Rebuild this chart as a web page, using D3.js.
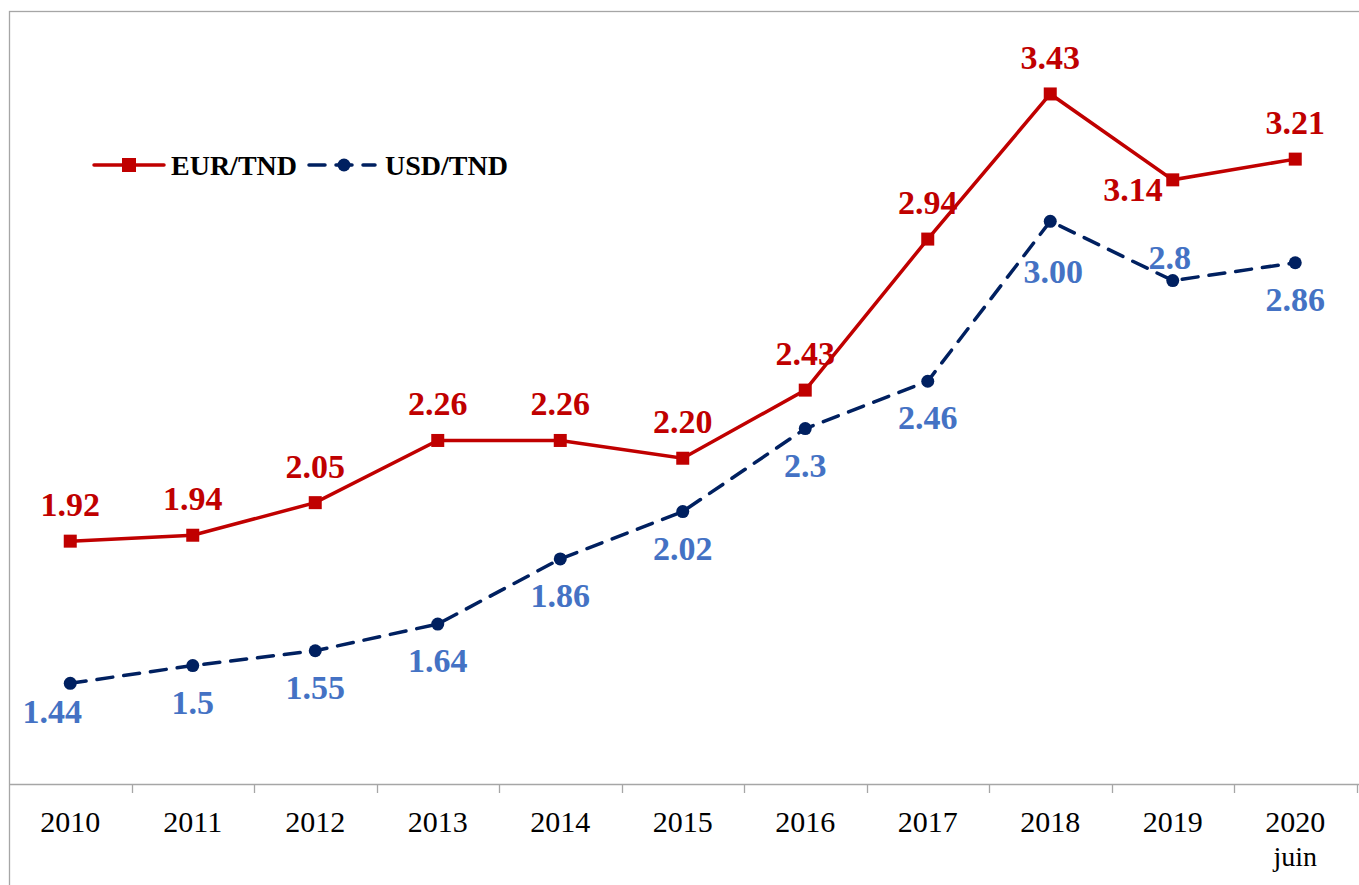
<!DOCTYPE html>
<html>
<head>
<meta charset="utf-8">
<script src="https://cdn.jsdelivr.net/npm/d3@7"></script>
<style>
  body { margin: 0; background: #fff; }
  svg text { font-family: "Liberation Serif", "DejaVu Serif", serif; }
</style>
</head>
<body>
<div id="main"></div>
<script>
// data
const years = ["2010", "2011", "2012", "2013", "2014", "2015", "2016", "2017", "2018", "2019", "2020"];
const yearSub = ["", "", "", "", "", "", "", "", "", "", "juin"];
const eurTnd = [1.92, 1.94, 2.05, 2.26, 2.26, 2.20, 2.43, 2.94, 3.43, 3.14, 3.21];
const usdTnd = [1.44, 1.5, 1.55, 1.64, 1.86, 2.02, 2.3, 2.46, 3.00, 2.8, 2.86];
const eurLabels = ["1.92", "1.94", "2.05", "2.26", "2.26", "2.20", "2.43", "2.94", "3.43", "3.14", "3.21"];
const usdLabels = ["1.44", "1.5", "1.55", "1.64", "1.86", "2.02", "2.3", "2.46", "3.00", "2.8", "2.86"];

const W = 1359, H = 885;
const red = "#C00000", navy = "#002060", lblue = "#4472C4", grey = "#a6a6a6";

const svg = d3.select("#main")
  .append("svg")
  .attr("width", W)
  .attr("height", H);

// chart frame (cut off at right and bottom)
svg.append("rect")
  .attr("x", 9.5).attr("y", 11.5)
  .attr("width", 1400).attr("height", 1000)
  .attr("fill", "none")
  .attr("stroke", grey)
  .attr("stroke-width", 1.3);

const x = d3.scaleBand()
  .domain(years)
  .range([9, 1356.5]);

const y = d3.scaleLinear()
  .domain([1.1, 3.7])
  .range([784, 14]);

const cx = (d) => x(d) + x.bandwidth() / 2;

// x axis
svg.append("line")
  .attr("x1", 9).attr("x2", W)
  .attr("y1", 784.5).attr("y2", 784.5)
  .attr("stroke", grey).attr("stroke-width", 1.5);

svg.selectAll(".tick")
  .data(years)
  .enter().append("line")
  .attr("class", "tick")
  .attr("x1", (d) => Math.round(x(d) + x.bandwidth()) + 0.5)
  .attr("x2", (d) => Math.round(x(d) + x.bandwidth()) + 0.5)
  .attr("y1", 784).attr("y2", 793)
  .attr("stroke", grey).attr("stroke-width", 1.3);

svg.selectAll(".year")
  .data(years)
  .enter().append("text")
  .attr("class", "year")
  .attr("x", (d) => cx(d))
  .attr("y", 832)
  .attr("text-anchor", "middle")
  .attr("font-size", "30px")
  .attr("fill", "#000")
  .text((d) => d);

svg.selectAll(".sub")
  .data(years.filter((d, i) => yearSub[i]))
  .enter().append("text")
  .attr("class", "sub")
  .attr("x", (d) => cx(d))
  .attr("y", 866)
  .attr("text-anchor", "middle")
  .attr("font-size", "28px")
  .attr("fill", "#000")
  .text((d) => yearSub[years.indexOf(d)]);

const line = d3.line()
  .x((d, i) => cx(years[i]))
  .y((d) => y(d));

// USD/TND dashed line
svg.append("path")
  .datum(usdTnd)
  .attr("d", line)
  .attr("fill", "none")
  .attr("stroke", navy)
  .attr("stroke-width", 3.5)
  .attr("stroke-linecap", "round")
  .attr("stroke-dasharray", "16,11");

svg.selectAll(".usd")
  .data(usdTnd)
  .enter().append("circle")
  .attr("class", "usd")
  .attr("cx", (d, i) => cx(years[i]))
  .attr("cy", (d) => y(d))
  .attr("r", 6.5)
  .attr("fill", navy);

// EUR/TND solid line
svg.append("path")
  .datum(eurTnd)
  .attr("d", line)
  .attr("fill", "none")
  .attr("stroke", red)
  .attr("stroke-width", 3.5);

svg.selectAll(".eur")
  .data(eurTnd)
  .enter().append("rect")
  .attr("class", "eur")
  .attr("x", (d, i) => cx(years[i]) - 6.5)
  .attr("y", (d) => y(d) - 6.5)
  .attr("width", 13)
  .attr("height", 13)
  .attr("fill", red);

// data labels (offsets from the point)
const eurOff = (i) => i === 9 ? [-10, 21, "end"] : [0, -25, "middle"];
const usdOff = (i) => {
  if (i === 0) return [-18, 40, "middle"];
  if (i === 8) return [3, 62, "middle"];
  if (i === 9) return [-3, -12, "middle"];
  return [0, 48, "middle"];
};

svg.selectAll(".eurlbl")
  .data(eurTnd)
  .enter().append("text")
  .attr("class", "eurlbl")
  .attr("x", (d, i) => cx(years[i]) + eurOff(i)[0])
  .attr("y", (d, i) => y(d) + eurOff(i)[1])
  .attr("text-anchor", (d, i) => eurOff(i)[2])
  .attr("font-size", "34px")
  .attr("font-weight", "bold")
  .attr("fill", red)
  .text((d, i) => eurLabels[i]);

svg.selectAll(".usdlbl")
  .data(usdTnd)
  .enter().append("text")
  .attr("class", "usdlbl")
  .attr("x", (d, i) => cx(years[i]) + usdOff(i)[0])
  .attr("y", (d, i) => y(d) + usdOff(i)[1])
  .attr("text-anchor", (d, i) => usdOff(i)[2])
  .attr("font-size", "34px")
  .attr("font-weight", "bold")
  .attr("fill", lblue)
  .text((d, i) => usdLabels[i]);

// legend
const legend = svg.append("g").attr("transform", "translate(94, 165)");

legend.append("line")
  .attr("x1", 0).attr("x2", 70)
  .attr("y1", 0).attr("y2", 0)
  .attr("stroke", red).attr("stroke-width", 3.5).attr("stroke-linecap", "round");
legend.append("rect")
  .attr("x", 28).attr("y", -7)
  .attr("width", 14).attr("height", 14)
  .attr("fill", red);
legend.append("text")
  .attr("x", 77).attr("y", 10)
  .attr("font-size", "28px")
  .attr("font-weight", "bold")
  .attr("fill", "#000")
  .text("EUR/TND");

legend.append("line")
  .attr("x1", 215).attr("x2", 281)
  .attr("y1", 0).attr("y2", 0)
  .attr("stroke", navy).attr("stroke-width", 3.5).attr("stroke-linecap", "round")
  .attr("stroke-dasharray", "16,11");
legend.append("circle")
  .attr("cx", 250).attr("cy", 0).attr("r", 6.5)
  .attr("fill", navy);
legend.append("text")
  .attr("x", 291).attr("y", 10)
  .attr("font-size", "28px")
  .attr("font-weight", "bold")
  .attr("fill", "#000")
  .text("USD/TND");
</script>
</body>
</html>
